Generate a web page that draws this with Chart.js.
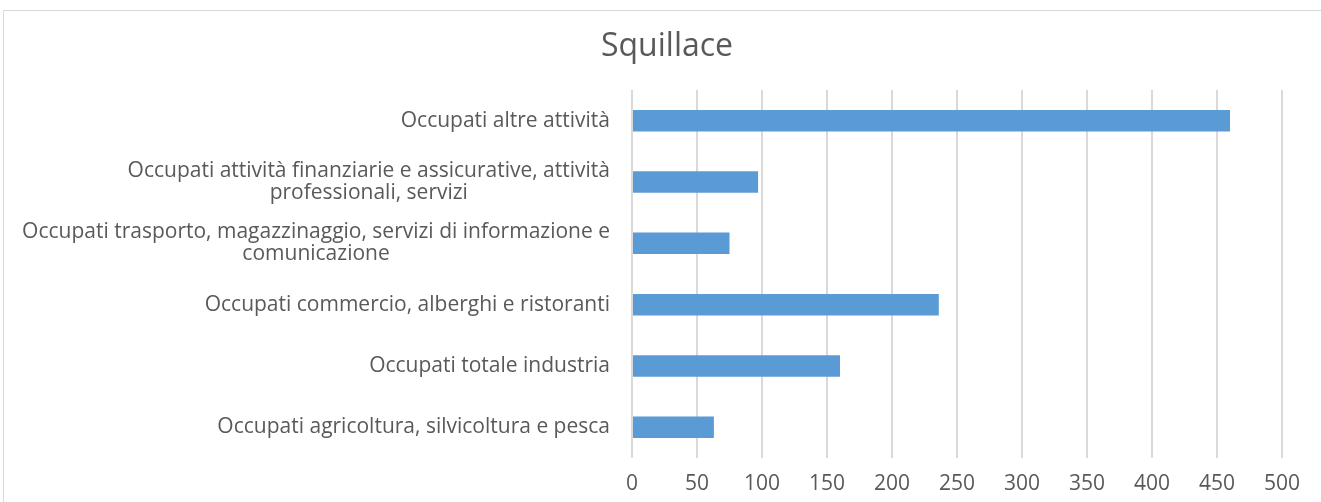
<!DOCTYPE html>
<html>
<head>
<meta charset="utf-8">
<script src="https://cdn.jsdelivr.net/npm/chart.js@4/dist/chart.umd.min.js"></script>
<style>
  html, body { margin: 0; padding: 0; background: #fff; overflow: hidden; }
  #wrap { position: relative; width: 1321px; height: 502px; }
  #frame { position: absolute; left: 3px; top: 10px; width: 1340px; height: 520px; border: 1px solid #d9d9d9; box-sizing: border-box; }
  canvas { position: absolute; left: 0; top: 0; }
</style>
</head>
<body>
<div id="wrap">
  <div id="frame"></div>
  <canvas id="chart" width="1321" height="502"></canvas>
</div>
<script>
// Squillace - occupati per settore
const chartTitle = 'Squillace';
const categories = [
    ['Occupati altre attività'],
    ['Occupati attività finanziarie e assicurative, attività', 'professionali, servizi'],
    ['Occupati trasporto, magazzinaggio, servizi di informazione e', 'comunicazione'],
    ['Occupati commercio, alberghi e ristoranti'],
    ['Occupati totale industria'],
    ['Occupati agricoltura, silvicoltura e pesca']
];
const values = [460, 97, 75, 236, 160, 63];
const tickValues = [0, 50, 100, 150, 200, 250, 300, 350, 400, 450, 500];

const textColor = '#595959';
const labelFont = '21px "Open Sans"';

// title + category labels (block right aligned, lines centered inside it)
const categoryLabels = {
    id: 'categoryLabels',
    afterDraw(chart) {
        const ctx = chart.ctx;
        const y = chart.scales.y;
        const right = y.right - 22;
        const lineH = 22;
        ctx.save();
        ctx.fillStyle = textColor;
        ctx.textAlign = 'center';
        ctx.textBaseline = 'middle';
        ctx.font = '32px "Open Sans"';
        ctx.fillText(chartTitle, 667, 47);
        ctx.font = labelFont;
        categories.forEach((lines, i) => {
            const cy = y.getPixelForTick(i);
            const w = Math.max(...lines.map(l => ctx.measureText(l).width));
            const cx = right - w / 2;
            const top = cy - (lines.length - 1) * lineH / 2;
            lines.forEach((l, j) => ctx.fillText(l, cx, top + j * lineH));
        });
        ctx.restore();
    }
};

new Chart(document.getElementById('chart'), {
    type: 'bar',
    data: {
        labels: categories,
        datasets: [{
            data: values,
            backgroundColor: '#5b9bd5',
            categoryPercentage: 1,
            barPercentage: 0.35
        }]
    },
    options: {
        indexAxis: 'y',
        responsive: false,
        animation: false,
        layout: { padding: { left: 0, right: 39, top: 90, bottom: 0 } },
        plugins: {
            legend: { display: false },
            tooltip: { enabled: false },
            title: { display: false }
        },
        scales: {
            x: {
                min: 0,
                max: 500,
                afterBuildTicks(scale) {
                    scale.ticks = tickValues.map(v => ({ value: v }));
                },
                afterFit(scale) { scale.height = 44; },
                grid: { color: '#d9d9d9', lineWidth: 2, drawTicks: false },
                border: { display: false },
                ticks: {
                    color: textColor,
                    font: { family: 'Open Sans', size: 21 },
                    padding: 13
                }
            },
            y: {
                afterFit(scale) { scale.width = 632; },
                grid: { display: false },
                border: { display: false },
                ticks: { display: false }
            }
        }
    },
    plugins: [categoryLabels]
});
</script>
</body>
</html>
